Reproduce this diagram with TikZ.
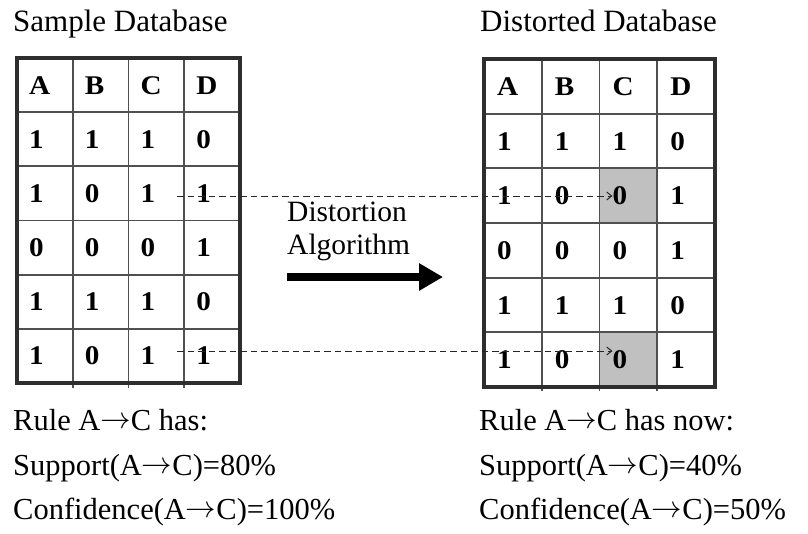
\RequirePackage{fix-cm}
\documentclass[tikz,border=0pt]{standalone}
\usepackage{fontspec}
\usepackage{graphicx}
\setmainfont{Liberation Serif}
\newfontfamily\cellfont[FakeStretch=1.08]{Liberation Serif}
\usetikzlibrary{arrows.meta}
\definecolor{gridline}{HTML}{505050}
\definecolor{frameline}{HTML}{2E2E2E}
\definecolor{cellgray}{HTML}{C0C0C0}
% thin implication arrow used in the rule texts
\newcommand{\impl}{\raisebox{1.5pt}{$\rightarrow$}}
\tikzset{
  cell/.style={anchor=base west, inner sep=0pt, font=\cellfont\bfseries\fontsize{27}{32}\selectfont},
  title/.style={anchor=base west, inner sep=0pt, font=\fontsize{31}{37}\selectfont},
  ruletext/.style={anchor=base west, inner sep=0pt, font=\fontsize{30.5}{36}\selectfont},
  inner grid/.style={draw=gridline, line width=1.8pt},
  outer frame/.style={draw=frameline, line width=3.4pt},
  changeline/.style={draw=black!85, line width=1pt, dash pattern=on 6.5pt off 4pt,
    -{Straight Barb[length=5pt,width=8pt,line width=1pt]}},
  mainarrow/.style={draw=black, line width=8pt, -{Triangle[length=24pt,width=26pt]}},
}
\begin{document}
\begin{tikzpicture}[x=1pt,y=-1pt]
\useasboundingbox (0,0) rectangle (808,533);

% ---------- sample database (left) ----------
\def\lx{17}\def\lw{55.75}\def\ly{58}\def\lh{54.17}
\foreach \c in {1,2,3}
  \draw[inner grid] ({\lx+\c*\lw},\ly) -- ({\lx+\c*\lw},{\ly+6*\lh+5});
\foreach \r in {1,...,5}
  \draw[inner grid] (\lx,{\ly+\r*\lh}) -- ({\lx+4*\lw},{\ly+\r*\lh});
\draw[outer frame] (\lx,\ly) rectangle ({\lx+4*\lw},{\ly+6*\lh});
\foreach \row [count=\r] in {{A,B,C,D},{1,1,1,0},{1,0,1,1},{0,0,0,1},{1,1,1,0},{1,0,1,1}}
  \foreach \v [count=\c] in \row
    \node[cell] (L-\r-\c) at ({\lx+(\c-1)*\lw+12},{\ly+(\r-0.5)*\lh+9}) {\v};
\node[title] (ltitle) at (13,31) {Sample Database};

% ---------- distorted database (right) ----------
\def\rx{484}\def\rw{57.75}\def\ry{59}\def\rh{54.67}
\fill[cellgray] ({\rx+2*\rw},{\ry+2*\rh}) rectangle ({\rx+3*\rw},{\ry+3*\rh});
\fill[cellgray] ({\rx+2*\rw},{\ry+5*\rh}) rectangle ({\rx+3*\rw},{\ry+6*\rh});
\foreach \c in {1,2,3}
  \draw[inner grid] ({\rx+\c*\rw},\ry) -- ({\rx+\c*\rw},{\ry+6*\rh+4});
\foreach \r in {1,...,5}
  \draw[inner grid] (\rx,{\ry+\r*\rh}) -- ({\rx+4*\rw+2},{\ry+\r*\rh});
\draw[outer frame] (\rx,\ry) rectangle ({\rx+4*\rw},{\ry+6*\rh});
\foreach \row [count=\r] in {{A,B,C,D},{1,1,1,0},{1,0,0,1},{0,0,0,1},{1,1,1,0},{1,0,0,1}}
  \foreach \v [count=\c] in \row
    \node[cell] (R-\r-\c) at ({\rx+(\c-1)*\rw+13},{\ry+(\r-0.5)*\rh+9}) {\v};
\node[title] (rtitle) at (480,31) {Distorted Database};

% ---------- distortion step ----------
\node[anchor=base west, inner sep=0pt, align=left,
      font=\fontsize{29.5}{33}\selectfont] (algo) at (287,254) {Distortion\\Algorithm};
\coordinate (arrowstart) at (287,277);
\coordinate (arrowend) at (443,277);
\draw[mainarrow] (arrowstart) -- (arrowend);

% changed items: D-column rows traced to the zeroed C cells
\coordinate (from3) at (177,196);
\coordinate (from6) at (177,351);
\draw[changeline] (from3) -- (R-3-3.west |- from3);
\draw[changeline] (from6) -- (R-6-3.west |- from6);

% ---------- rule measures ----------
\node[ruletext] (lrule) at (13,430) {Rule A\impl C has:};
\node[ruletext] (lsup)  at (13,475) {Support(A\impl C)=80\%};
\node[ruletext] (lconf) at (13,519) {Confidence(A\impl C)=100\%};
\node[ruletext] (rrule) at (479,430) {Rule A\impl C has now:};
\node[ruletext] (rsup)  at (479,475) {Support(A\impl C)=40\%};
\node[ruletext] (rconf) at (479,519) {Confidence(A\impl C)=50\%};
\end{tikzpicture}
\end{document}
